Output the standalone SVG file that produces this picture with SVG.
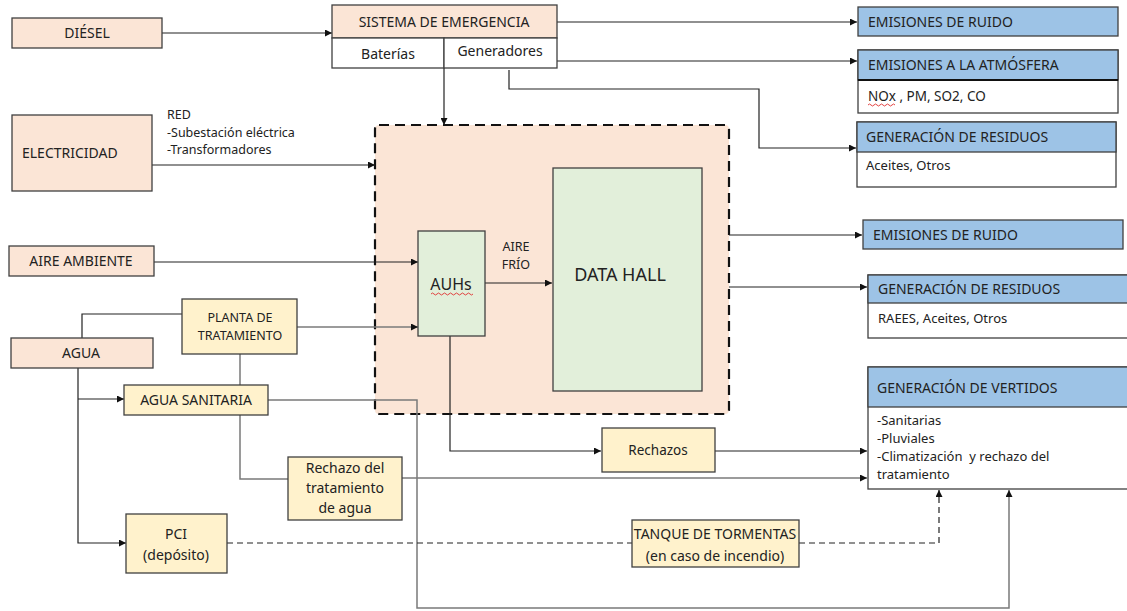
<svg xmlns="http://www.w3.org/2000/svg" width="1127" height="611" viewBox="0 0 1127 611">
<style>
text{font-family:"Noto Sans","Open Sans",sans-serif;fill:#222;font-size:14px}
.c{text-anchor:middle}
.s{font-size:12.5px}
.b{font-size:13px}
.pre{white-space:pre}
.peach{fill:#FBE5D6;stroke:#404040;stroke-width:1.3}
.yel{fill:#FFF2CC;stroke:#404040;stroke-width:1.3}
.grn{fill:#E2EFDA;stroke:#404040;stroke-width:1.3}
.blue{fill:#9DC3E6;stroke:#404040;stroke-width:1.3}
.wht{fill:#FFFFFF;stroke:#404040;stroke-width:1.3}
.ln{fill:none;stroke:#222;stroke-width:1.2}
.gr{fill:none;stroke:#7a7a7a;stroke-width:1.5}
.dl{fill:none;stroke:#222;stroke-width:1.2;stroke-dasharray:6 4}
.wv{fill:none;stroke:#e03030;stroke-width:0.9}
</style>
<defs>
<marker id="a" viewBox="0 0 10 10" refX="10" refY="5" markerWidth="9" markerHeight="7" markerUnits="userSpaceOnUse" orient="auto"><path d="M0,0 L10,5 L0,10 z" fill="#111"/></marker>
</defs>

<g id="datacenter">
<rect x="375" y="125" width="354" height="289" rx="4" fill="#FBE5D6" stroke="#111" stroke-width="2.2" stroke-dasharray="10 6"/>
</g>

<g id="connectors">
<path class="ln" d="M162,33 H332" marker-end="url(#a)"/>
<path class="ln" d="M557,22 H857" marker-end="url(#a)"/>
<path class="ln" d="M557,61 H857" marker-end="url(#a)"/>
<path class="ln" d="M509,70 V89 H759 V148 H856" marker-end="url(#a)"/>
<path class="ln" d="M444,68 V125" marker-end="url(#a)"/>
<path class="ln" d="M152,165 H375" marker-end="url(#a)"/>
<path class="ln" d="M154,262 H418" marker-end="url(#a)"/>
<path class="ln" d="M82,338 V314 H182"/>
<path class="gr" d="M297,327 H418" marker-end="url(#a)"/>
<path class="ln" d="M78,368 V543 H126" marker-end="url(#a)"/>
<path class="ln" d="M78,399 H124" marker-end="url(#a)"/>
<path class="gr" d="M240,354 V479 H288"/>
<path class="gr" d="M268,400 H417 V608 H1009 V490" marker-end="url(#a)"/>
<path class="ln" d="M450,336 V451 H601" marker-end="url(#a)"/>
<path class="ln" d="M485,283 H552" marker-end="url(#a)"/>
<path class="ln" d="M715,451 H867" marker-end="url(#a)"/>
<path class="gr" d="M402,478 H867" marker-end="url(#a)"/>
<path class="ln" d="M729,235 H862" marker-end="url(#a)"/>
<path class="ln" d="M729,287 H867" marker-end="url(#a)"/>
<path class="dl" d="M227,543 H632"/>
<path class="dl" d="M799,543 H939 V490" marker-end="url(#a)"/>
</g>

<g id="diesel">
<rect class="peach" x="12" y="18" width="150" height="30"/>
<text class="c" x="87" y="38">DIÉSEL</text>
</g>

<g id="sistema">
<rect class="peach" x="332" y="5" width="225" height="33"/>
<rect class="wht" x="332" y="38" width="112" height="30"/>
<rect class="wht" x="444" y="38" width="113" height="30"/>
<text class="c" x="444" y="27">SISTEMA DE EMERGENCIA</text>
<text class="c" x="388" y="59">Baterías</text>
<text class="c" x="500" y="56">Generadores</text>
</g>

<g id="electricidad">
<rect class="peach" x="12" y="115" width="140" height="76"/>
<text x="22" y="158">ELECTRICIDAD</text>
<text class="s" x="167" y="119">RED</text>
<text class="s" x="167" y="137">-Subestación eléctrica</text>
<text class="s" x="167" y="154">-Transformadores</text>
</g>

<g id="aire">
<rect class="peach" x="9" y="246" width="145" height="30"/>
<text class="c" x="81" y="266">AIRE AMBIENTE</text>
</g>

<g id="agua">
<rect class="peach" x="11" y="338" width="142" height="30"/>
<text class="c" x="81" y="358">AGUA</text>
</g>

<g id="planta">
<rect class="yel" x="182" y="299" width="115" height="55"/>
<text class="c s" x="240" y="322">PLANTA DE</text>
<text class="c s" x="240" y="340">TRATAMIENTO</text>
</g>

<g id="sanitaria">
<rect class="yel" x="124" y="385" width="144" height="30"/>
<text class="c" x="196" y="405">AGUA SANITARIA</text>
</g>

<g id="rechazo-tratamiento">
<rect class="yel" x="288" y="457" width="114" height="63"/>
<text class="c" x="345" y="473">Rechazo del</text>
<text class="c" x="345" y="493">tratamiento</text>
<text class="c" x="345" y="513">de agua</text>
</g>

<g id="pci">
<rect class="yel" x="126" y="514" width="101" height="59"/>
<text class="c" x="176" y="539">PCI</text>
<text class="c" x="176" y="560">(depósito)</text>
</g>

<g id="tanque">
<rect class="yel" x="632" y="520" width="167" height="47"/>
<text class="c" x="715" y="539">TANQUE DE TORMENTAS</text>
<text class="c" x="715" y="561">(en caso de incendio)</text>
</g>

<g id="auhs">
<rect class="grn" x="418" y="231" width="67" height="105"/>
<text class="c" x="451" y="290" style="font-size:16px">AUHs</text>
<path class="wv" d="M431,294 q1.5,-2 3,0 t3,0 t3,0 t3,0 t3,0 t3,0 t3,0 t3,0 t3,0 t3,0 t3,0 t3,0 t3,0 t3,0"/>
<text class="c s" x="516" y="251">AIRE</text>
<text class="c s" x="516" y="269">FRÍO</text>
</g>

<g id="datahall">
<rect class="grn" x="553" y="168" width="149" height="223"/>
<text class="c" x="620" y="281" style="font-size:18px">DATA HALL</text>
</g>

<g id="rechazos">
<rect class="yel" x="602" y="428" width="113" height="44"/>
<text class="c" x="658" y="455" style="font-size:13.5px">Rechazos</text>
</g>

<g id="ruido1">
<rect class="blue" x="858" y="7" width="260" height="29"/>
<text x="868" y="27">EMISIONES DE RUIDO</text>
</g>

<g id="atmosfera">
<rect class="wht" x="858" y="50" width="260" height="63"/>
<rect class="blue" x="858" y="50" width="260" height="30"/>
<line x1="858" y1="80" x2="1118" y2="80" stroke="#111" stroke-width="2"/>
<text x="868" y="70">EMISIONES A LA ATMÓSFERA</text>
<text x="868" y="101" style="font-size:13.5px">NOx , PM, SO2, CO</text>
<path class="wv" d="M868,105 q1.5,-2 3,0 t3,0 t3,0 t3,0 t3,0 t3,0 t3,0 t3,0 t3,0"/>
</g>

<g id="residuos1">
<rect class="wht" x="857" y="122" width="259" height="65"/>
<rect class="blue" x="857" y="122" width="259" height="30"/>
<text x="866" y="142">GENERACIÓN DE RESIDUOS</text>
<text class="b" x="866" y="170">Aceites, Otros</text>
</g>

<g id="ruido2">
<rect class="blue" x="863" y="220" width="260" height="29"/>
<text x="873" y="240">EMISIONES DE RUIDO</text>
</g>

<g id="residuos2">
<rect class="wht" x="868" y="275" width="262" height="63"/>
<rect class="blue" x="868" y="275" width="262" height="28"/>
<text x="878" y="294">GENERACIÓN DE RESIDUOS</text>
<text class="b" x="878" y="323">RAEES, Aceites, Otros</text>
</g>

<g id="vertidos">
<rect class="wht" x="868" y="367" width="262" height="122"/>
<rect class="blue" x="868" y="367" width="262" height="40"/>
<text x="877" y="393">GENERACIÓN DE VERTIDOS</text>
<text class="b" x="877" y="425">-Sanitarias</text>
<text class="b" x="877" y="443">-Pluviales</text>
<text class="b pre" x="877" y="461" xml:space="preserve">-Climatización  y rechazo del</text>
<text class="b" x="877" y="479">tratamiento</text>
</g>
</svg>
